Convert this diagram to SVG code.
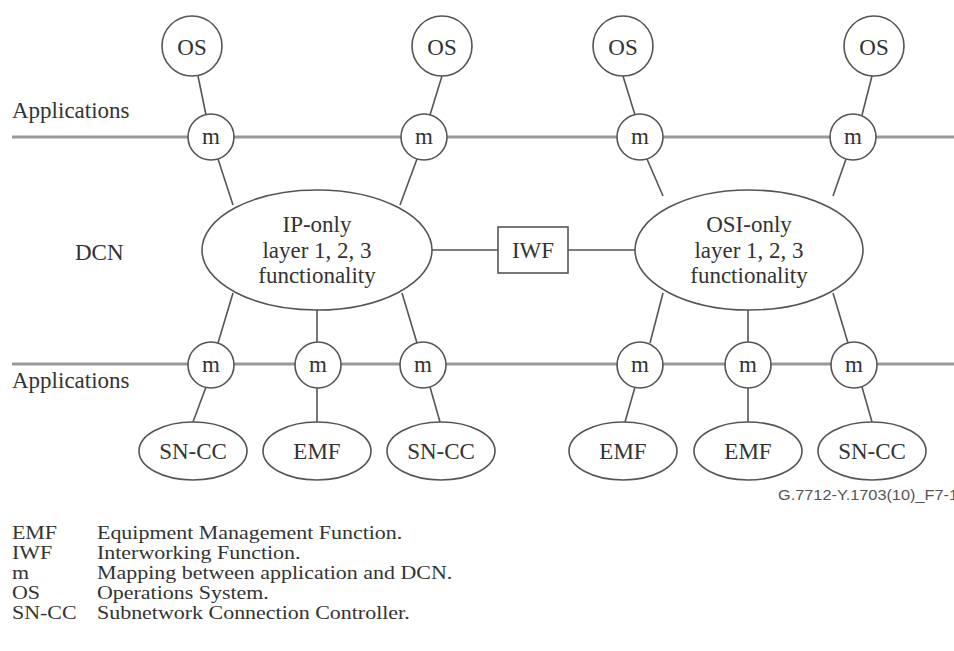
<svg xmlns="http://www.w3.org/2000/svg" width="954" height="651" viewBox="0 0 954 651">
  <style>
    .bg { fill: #ffffff; }
    .bus { stroke: #999999; stroke-width: 3; fill: none; }
    .wire { stroke: #555555; stroke-width: 1.6; fill: none; }
    .shape { fill: #ffffff; stroke: #555555; stroke-width: 1.6; }
    text { font-family: "Liberation Serif", "Times New Roman", serif; fill: #333333; }
    .lbl { font-size: 23px; text-anchor: middle; }
    .side { font-size: 23px; }
    .key { font-size: 18px; }
    .tag { font-family: "Liberation Sans", Arial, sans-serif; font-size: 14px; fill: #555555; }
  </style>
  <rect class="bg" x="0" y="0" width="954" height="651"/>

  <!-- application buses and layer labels -->
  <g id="buses">
    <line class="bus" x1="12" y1="137" x2="954" y2="137"/>
    <line class="bus" x1="12" y1="364" x2="954" y2="364"/>
    <text class="side" x="12" y="118">Applications</text>
    <text class="side" x="12" y="388">Applications</text>
    <text class="side" x="75" y="260">DCN</text>
  </g>

  <!-- connectors -->
  <g id="connectors">
    <!-- OS to m -->
    <line class="wire" x1="198" y1="76" x2="206" y2="115"/>
    <line class="wire" x1="442" y1="76" x2="430" y2="115"/>
    <line class="wire" x1="623" y1="76" x2="635" y2="115"/>
    <line class="wire" x1="872" y1="76" x2="862" y2="115"/>
    <!-- upper m to DCN clouds -->
    <line class="wire" x1="218" y1="159" x2="233" y2="205"/>
    <line class="wire" x1="417" y1="159" x2="400" y2="205"/>
    <line class="wire" x1="647" y1="159" x2="663" y2="196"/>
    <line class="wire" x1="846" y1="159" x2="833" y2="196"/>
    <!-- DCN clouds to IWF -->
    <line class="wire" x1="432" y1="250" x2="498" y2="250"/>
    <line class="wire" x1="568" y1="250" x2="635" y2="250"/>
    <!-- DCN clouds to lower m -->
    <line class="wire" x1="233" y1="293" x2="218" y2="343"/>
    <line class="wire" x1="317" y1="310" x2="317" y2="343"/>
    <line class="wire" x1="402" y1="293" x2="417" y2="343"/>
    <line class="wire" x1="663" y1="293" x2="650" y2="343"/>
    <line class="wire" x1="748" y1="310" x2="748" y2="343"/>
    <line class="wire" x1="833" y1="293" x2="848" y2="343"/>
    <!-- lower m to functions -->
    <line class="wire" x1="206" y1="387" x2="193" y2="422"/>
    <line class="wire" x1="317" y1="388" x2="317" y2="422"/>
    <line class="wire" x1="430" y1="387" x2="440" y2="422"/>
    <line class="wire" x1="635" y1="387" x2="625" y2="422"/>
    <line class="wire" x1="748" y1="388" x2="748" y2="422"/>
    <line class="wire" x1="862" y1="387" x2="872" y2="422"/>
  </g>

  <!-- operations systems -->
  <g id="os1"><circle class="shape" cx="192" cy="46" r="30"/><text class="lbl" x="192" y="55">OS</text></g>
  <g id="os2"><circle class="shape" cx="442" cy="46" r="30"/><text class="lbl" x="442" y="55">OS</text></g>
  <g id="os3"><circle class="shape" cx="623" cy="46" r="30"/><text class="lbl" x="623" y="55">OS</text></g>
  <g id="os4"><circle class="shape" cx="874" cy="46" r="30"/><text class="lbl" x="874" y="55">OS</text></g>

  <!-- upper mapping functions -->
  <g id="m1"><circle class="shape" cx="211" cy="137" r="23"/><text class="lbl" x="211" y="144">m</text></g>
  <g id="m2"><circle class="shape" cx="424" cy="137" r="23"/><text class="lbl" x="424" y="144">m</text></g>
  <g id="m3"><circle class="shape" cx="640" cy="137" r="23"/><text class="lbl" x="640" y="144">m</text></g>
  <g id="m4"><circle class="shape" cx="853" cy="137" r="23"/><text class="lbl" x="853" y="144">m</text></g>

  <!-- DCN clouds -->
  <g id="ip-dcn">
    <ellipse class="shape" cx="317" cy="250" rx="115" ry="60"/>
    <text class="lbl" x="317" y="232">IP-only</text>
    <text class="lbl" x="317" y="258">layer 1, 2, 3</text>
    <text class="lbl" x="317" y="283">functionality</text>
  </g>
  <g id="iwf">
    <rect class="shape" x="498" y="227" width="70" height="46"/>
    <text class="lbl" x="533" y="258">IWF</text>
  </g>
  <g id="osi-dcn">
    <ellipse class="shape" cx="749" cy="250" rx="114" ry="60"/>
    <text class="lbl" x="749" y="232">OSI-only</text>
    <text class="lbl" x="749" y="258">layer 1, 2, 3</text>
    <text class="lbl" x="749" y="283">functionality</text>
  </g>

  <!-- lower mapping functions -->
  <g id="m5"><circle class="shape" cx="211" cy="365" r="23"/><text class="lbl" x="211" y="372">m</text></g>
  <g id="m6"><circle class="shape" cx="318" cy="365" r="23"/><text class="lbl" x="318" y="372">m</text></g>
  <g id="m7"><circle class="shape" cx="423" cy="365" r="23"/><text class="lbl" x="423" y="372">m</text></g>
  <g id="m8"><circle class="shape" cx="640" cy="365" r="23"/><text class="lbl" x="640" y="372">m</text></g>
  <g id="m9"><circle class="shape" cx="748" cy="365" r="23"/><text class="lbl" x="748" y="372">m</text></g>
  <g id="m10"><circle class="shape" cx="854" cy="365" r="23"/><text class="lbl" x="854" y="372">m</text></g>

  <!-- network element functions -->
  <g id="sncc1"><ellipse class="shape" cx="193" cy="451" rx="54" ry="29"/><text class="lbl" x="193" y="459">SN-CC</text></g>
  <g id="emf1"><ellipse class="shape" cx="317" cy="451" rx="54" ry="29"/><text class="lbl" x="317" y="459">EMF</text></g>
  <g id="sncc2"><ellipse class="shape" cx="441" cy="451" rx="54" ry="29"/><text class="lbl" x="441" y="459">SN-CC</text></g>
  <g id="emf2"><ellipse class="shape" cx="623" cy="451" rx="54" ry="29"/><text class="lbl" x="623" y="459">EMF</text></g>
  <g id="emf3"><ellipse class="shape" cx="748" cy="451" rx="54" ry="29"/><text class="lbl" x="748" y="459">EMF</text></g>
  <g id="sncc3"><ellipse class="shape" cx="872" cy="451" rx="54" ry="29"/><text class="lbl" x="872" y="459">SN-CC</text></g>

  <!-- figure tag -->
  <text class="tag" x="778" y="500" textLength="180" lengthAdjust="spacingAndGlyphs">G.7712-Y.1703(10)_F7-1</text>

  <!-- abbreviations, set in a horizontally widened face -->
  <g id="legend" transform="scale(1.22,1)">
    <text class="key" x="9.8" y="539">EMF</text><text class="key" x="79.5" y="539">Equipment Management Function.</text>
    <text class="key" x="9.8" y="559">IWF</text><text class="key" x="79.5" y="559">Interworking Function.</text>
    <text class="key" x="9.8" y="579">m</text><text class="key" x="79.5" y="579">Mapping between application and DCN.</text>
    <text class="key" x="9.8" y="599">OS</text><text class="key" x="79.5" y="599">Operations System.</text>
    <text class="key" x="9.8" y="619">SN-CC</text><text class="key" x="79.5" y="619">Subnetwork Connection Controller.</text>
  </g>
</svg>
